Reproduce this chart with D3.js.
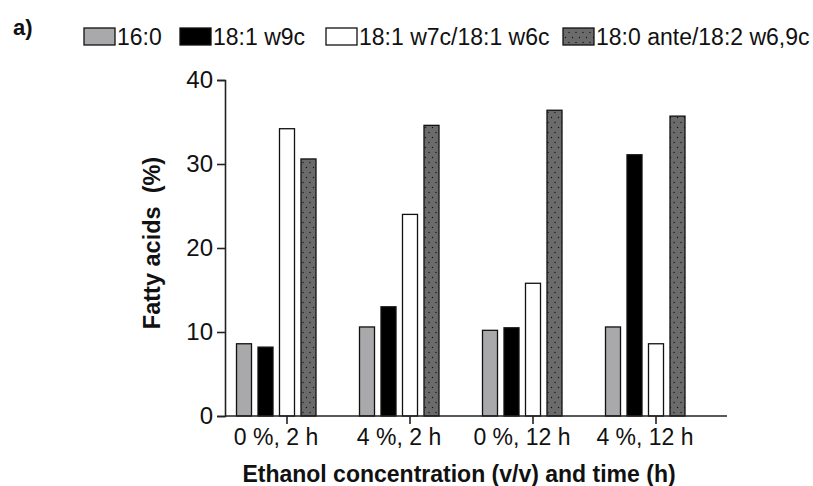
<!DOCTYPE html>
<html>
<head>
<meta charset="utf-8">
<script src="https://cdn.jsdelivr.net/npm/d3@7"></script>
<style>
  body { margin: 0; background: #fff; }
  svg text { font-family: "Liberation Sans", Arial, sans-serif; }
</style>
</head>
<body>
<script>
// data
var categories = ["0 %, 2 h", "4 %, 2 h", "0 %, 12 h", "4 %, 12 h"];
var series = ["16:0", "18:1 w9c", "18:1 w7c/18:1 w6c", "18:0 ante/18:2 w6,9c"];
var v16_0 = [8.6, 10.6, 10.2, 10.6];
var v18_1w9c = [8.2, 13.0, 10.5, 31.1];
var v18_1w7c = [34.2, 24.0, 15.8, 8.6];
var v18_0ante = [30.6, 34.6, 36.4, 35.7];
var yTicks = [0, 10, 20, 30, 40];

var values = [v16_0, v18_1w9c, v18_1w7c, v18_0ante];

var w = 813, h = 486;
var svg = d3.select("body").append("svg")
  .attr("width", w).attr("height", h);

// dotted fill for the 4th series
var defs = svg.append("defs");
var pat = defs.append("pattern")
  .attr("id", "dots").attr("patternUnits", "userSpaceOnUse")
  .attr("width", 7).attr("height", 10);
pat.append("rect").attr("width", 7).attr("height", 10).style("fill", "#6b6b6b");
pat.append("circle").attr("cx", 2).attr("cy", 2.5).attr("r", 0.7).style("fill", "#111");
pat.append("circle").attr("cx", 5.5).attr("cy", 7.5).attr("r", 0.7).style("fill", "#111");

var fills = ["#a9a8aa", "#000000", "#ffffff", "url(#dots)"];

var x = d3.scaleBand().domain(categories).range([225.5, 717.5]).padding(0);
// bars sit a bit left of the tick, like in the original
var xIn = d3.scaleBand().domain(series).range([-50.5, 29]).paddingInner(0.302).paddingOuter(0);
var y = d3.scaleLinear().domain([0, 40]).range([416, 80]);

// bars
series.forEach(function(s, i) {
  svg.append("g").selectAll("rect")
    .data(values[i])
    .enter().append("rect")
    .attr("x", function(d, j) { return x(categories[j]) + x.bandwidth()/2 + xIn(s); })
    .attr("y", function(d) { return y(d); })
    .attr("width", xIn.bandwidth())
    .attr("height", function(d) { return y(0) - y(d); })
    .style("fill", fills[i])
    .style("stroke", "#111").style("stroke-width", 1.3);
});

// y axis
var yAxis = svg.append("g").attr("transform", "translate(225,0)")
  .call(d3.axisLeft(y).tickValues(yTicks).tickSize(8).tickPadding(4));
yAxis.select(".domain").style("stroke", "#222").style("stroke-width", 1.6);
yAxis.selectAll(".tick line").style("stroke", "#222").style("stroke-width", 1.6);
yAxis.selectAll("text").style("font-size", "24px").style("fill", "#111")
  .style("font-family", "'Liberation Sans', Arial, sans-serif");

// x axis
var xAxis = svg.append("g").attr("transform", "translate(0,416)")
  .call(d3.axisBottom(x).tickSize(8).tickPadding(5).tickSizeOuter(0));
xAxis.select(".domain").remove();
svg.append("line").attr("x1", 225).attr("x2", 727).attr("y1", 416).attr("y2", 416)
  .style("stroke", "#222").style("stroke-width", 1.6);
xAxis.selectAll(".tick line").style("stroke", "#222").style("stroke-width", 1.6);
xAxis.selectAll("text").style("font-size", "23px").style("fill", "#111")
  .attr("dx", -11)
  .style("font-family", "'Liberation Sans', Arial, sans-serif");

// axis titles
svg.append("text")
  .attr("x", 459).attr("y", 482)
  .attr("text-anchor", "middle")
  .style("font-size", "23px").style("font-weight", "bold").style("fill", "#111")
  .text("Ethanol concentration (v/v) and time (h)");

svg.append("text")
  .attr("transform", "translate(160,243) rotate(-90)")
  .attr("text-anchor", "middle")
  .style("font-size", "23.5px").style("font-weight", "bold").style("fill", "#111")
  .style("white-space", "pre")
  .text("Fatty acids  (%)");

// panel letter
svg.append("text").attr("x", 13).attr("y", 35)
  .style("font-size", "22px").style("font-weight", "bold").style("fill", "#111")
  .text("a)");

// legend
var legendX = [84, 180, 326, 563];
var leg = svg.append("g");
series.forEach(function(s, i) {
  leg.append("rect")
    .attr("x", legendX[i]).attr("y", 28)
    .attr("width", 31).attr("height", 17)
    .style("fill", fills[i]).style("stroke", "#111").style("stroke-width", 1.3);
  leg.append("text")
    .attr("x", legendX[i] + 33).attr("y", 45)
    .style("font-size", "23px").style("fill", "#111")
    .text(s);
});
</script>
</body>
</html>
